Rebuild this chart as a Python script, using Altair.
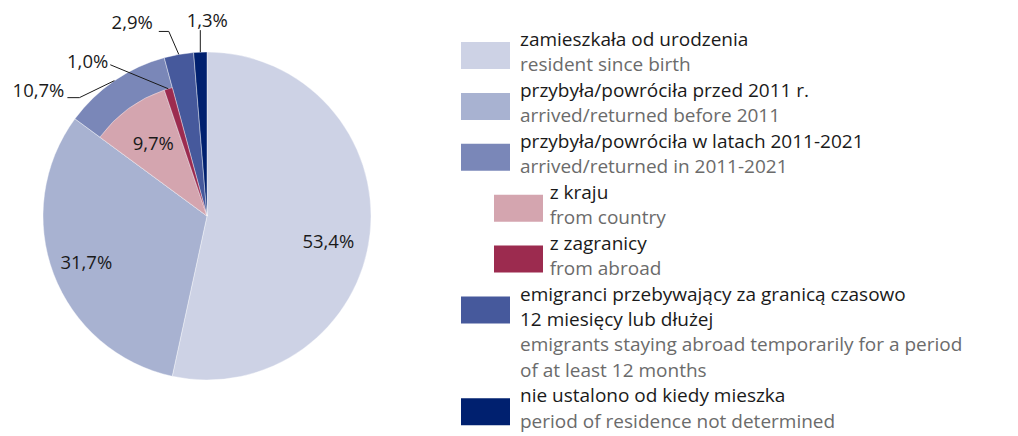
import math
import altair as alt
import pandas as pd

# ---- data ----
outer_cats = ["birth", "before2011", "in2011_2021", "emigrants", "undetermined"]
outer_vals = [53.4, 31.7, 10.7, 2.9, 1.3]
inner_cats = ["birth", "before2011", "country", "abroad", "emigrants", "undetermined"]
inner_vals = [53.4, 31.7, 9.7, 1.0, 2.9, 1.3]
inner_shown = ["country", "abroad"]

all_cats = ["birth", "before2011", "in2011_2021", "country", "abroad", "emigrants", "undetermined"]
colors = ["#cdd2e5", "#a8b2d1", "#7a87b8", "#d4a5af", "#9c2b4f", "#46599c", "#00206f"]

legend_pl = [
    ["zamieszkała od urodzenia"],
    ["przybyła/powróciła przed 2011 r."],
    ["przybyła/powróciła w latach 2011-2021"],
    ["z kraju"],
    ["z zagranicy"],
    ["emigranci przebywający za granicą czasowo", "12 miesięcy lub dłużej"],
    ["nie ustalono od kiedy mieszka"],
]
legend_en = [
    ["resident since birth"],
    ["arrived/returned before 2011"],
    ["arrived/returned in 2011-2021"],
    ["from country"],
    ["from abroad"],
    ["emigrants staying abroad temporarily for a period", "of at least 12 months"],
    ["period of residence not determined"],
]
legend_indent = [0, 0, 0, 1, 1, 0, 0]


def fmt(v):
    return f"{v:.1f}".replace(".", ",") + "%"


# ---- layout ----
W, H = 1002, 428
CX, CY = 199, 208
R_OUT, R_IN = 164, 133
FONT = "Open Sans"
LBL_SIZE = 18.5
LEG_SIZE = 19

color_scale = alt.Scale(domain=all_cats, range=colors)

outer_df = pd.DataFrame({"cat": outer_cats, "val": outer_vals, "ord": range(len(outer_cats))})
inner_df = pd.DataFrame({"cat": inner_cats, "val": inner_vals, "ord": range(len(inner_cats))})

outer = alt.Chart(outer_df).mark_arc(radius=R_OUT, stroke="#ffffff", strokeWidth=0.4).encode(
    theta=alt.Theta("val:Q", stack=True, scale=alt.Scale(domain=[0, 100])),
    color=alt.Color("cat:N", scale=color_scale, legend=None),
    order=alt.Order("ord:Q"),
    x=alt.value(CX), y=alt.value(CY),
)
inner = alt.Chart(inner_df).mark_arc(radius=R_IN, stroke="#ffffff", strokeWidth=0.4).encode(
    theta=alt.Theta("val:Q", stack=True, scale=alt.Scale(domain=[0, 100])),
    color=alt.Color("cat:N", scale=color_scale, legend=None),
    order=alt.Order("ord:Q"),
    opacity=alt.condition(alt.FieldOneOfPredicate(field="cat", oneOf=inner_shown), alt.value(1), alt.value(0)),
    x=alt.value(CX), y=alt.value(CY),
)


def polar(angle_pct, r):
    a = angle_pct / 100 * 2 * math.pi
    return CX + r * math.sin(a), CY - r * math.cos(a)


def mids(vals):
    out, c = [], 0
    for v in vals:
        out.append(c + v / 2)
        c += v
    return out


om = mids(outer_vals)
im = mids(inner_vals)

# inside labels: (value, mid angle, radius, vertical nudge)
in_rows = []
for v, m, r, dy in [(outer_vals[0], om[0], 122, 13), (outer_vals[1], om[1], 129, 1), (inner_vals[2], im[2], 91, 1)]:
    x, y = polar(m, r)
    in_rows.append({"t": fmt(v), "x": x, "y": y + dy})
in_labels = alt.Chart(pd.DataFrame(in_rows)).mark_text(font=FONT, fontSize=LBL_SIZE, color="#1a1a1a").encode(
    x=alt.X("x:Q", scale=None), y=alt.Y("y:Q", scale=None), text="t:N"
)

# outside labels with leader lines
out_specs = [
    (outer_vals[2], om[2], R_OUT, [(-35, 17), (-47, 17)], (-50, 10), "right"),
    (inner_vals[3], im[3], R_IN, [(-58, -24)], (-60, -27), "right"),
    (outer_vals[3], om[3], R_OUT, [(-10, -23), (-20, -23)], (-26, -31), "right"),
    (outer_vals[4], om[4], R_OUT, [(0, -22)], (7, -31), "center"),
]
line_rows, lab_rows = [], []
for i, (v, m, r, pts, lab, align) in enumerate(out_specs):
    ex, ey = polar(m, r)
    line_rows.append({"g": i, "k": 0, "x": ex, "y": ey})
    for k, (dx, dy) in enumerate(pts):
        line_rows.append({"g": i, "k": k + 1, "x": ex + dx, "y": ey + dy})
    lab_rows.append({"t": fmt(v), "x": ex + lab[0], "y": ey + lab[1], "a": align})

leaders = alt.Chart(pd.DataFrame(line_rows)).mark_line(color="#1a1a1a", strokeWidth=1).encode(
    x=alt.X("x:Q", scale=None), y=alt.Y("y:Q", scale=None), detail="g:N", order="k:Q"
)
lab_df = pd.DataFrame(lab_rows)
out_r = alt.Chart(lab_df[lab_df.a == "right"]).mark_text(font=FONT, fontSize=LBL_SIZE, color="#1a1a1a", align="right").encode(
    x=alt.X("x:Q", scale=None), y=alt.Y("y:Q", scale=None), text="t:N"
)
out_c = alt.Chart(lab_df[lab_df.a == "center"]).mark_text(font=FONT, fontSize=LBL_SIZE, color="#1a1a1a", align="center").encode(
    x=alt.X("x:Q", scale=None), y=alt.Y("y:Q", scale=None), text="t:N"
)

# ---- custom legend ----
LINE = 25.45
sw_rows, pl_rows, en_rows = [], [], []
y = 32
for i, cat in enumerate(all_cats):
    ind = legend_indent[i] * 33
    sx = 453 + ind
    tx = 512 + ind * 0.9
    sw_rows.append({"cat": cat, "x": sx, "x2": sx + 49, "y": y + 2, "y2": y + 29})
    for line in legend_pl[i]:
        pl_rows.append({"t": line, "x": tx, "y": y})
        y += LINE
    for line in legend_en[i]:
        en_rows.append({"t": line, "x": tx, "y": y})
        y += LINE

swatches = alt.Chart(pd.DataFrame(sw_rows)).mark_rect().encode(
    x=alt.X("x:Q", scale=None), x2="x2:Q", y=alt.Y("y:Q", scale=None), y2="y2:Q",
    color=alt.Color("cat:N", scale=color_scale, legend=None),
)
pl_text = alt.Chart(pd.DataFrame(pl_rows)).mark_text(font=FONT, fontSize=LEG_SIZE, color="#1a1a1a", align="left").encode(
    x=alt.X("x:Q", scale=None), y=alt.Y("y:Q", scale=None), text="t:N"
)
en_text = alt.Chart(pd.DataFrame(en_rows)).mark_text(font=FONT, fontSize=LEG_SIZE, color="#6b6b6b", align="left").encode(
    x=alt.X("x:Q", scale=None), y=alt.Y("y:Q", scale=None), text="t:N"
)

chart = alt.layer(outer, inner, leaders, in_labels, out_r, out_c, swatches, pl_text, en_text).properties(
    width=W, height=H, padding=0, autosize=alt.AutoSizeParams(type="none")
).configure_view(stroke=None)

chart.save("out.html", embed_options={"renderer": "svg", "actions": False})
